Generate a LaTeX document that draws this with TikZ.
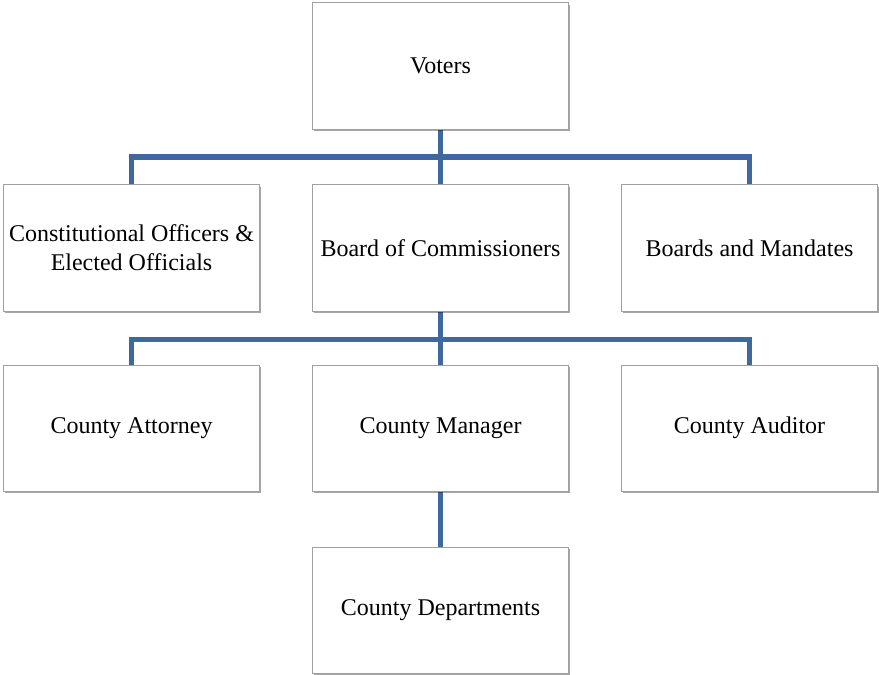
\documentclass[tikz,border=0pt]{standalone}
\usepackage{fontspec}
\setmainfont{Liberation Serif}
\usetikzlibrary{shadows,backgrounds,calc}
\definecolor{connblue}{RGB}{62,104,158}
\definecolor{boxline}{RGB}{160,160,160}
\tikzset{
  orgbox/.style={draw=boxline, line width=1bp, fill=white, minimum width=256bp, minimum height=126bp,
    inner sep=0pt, align=center, font=\fontsize{24bp}{29bp}\selectfont,
    drop shadow={shadow xshift=1.5bp, shadow yshift=-2bp, fill=black, opacity=0.35}},
  conn/.style={draw=connblue, line width=5bp}
}
\begin{document}
\begin{tikzpicture}[x=1bp,y=-1bp]
\useasboundingbox (0,0) rectangle (879,675);
\node[orgbox] (v) at (440.5,66) {Voters};
\node[orgbox] (co) at (131.5,248) {Constitutional Officers \&\\Elected Officials};
\node[orgbox] (bc) at (440.5,248) {Board of Commissioners};
\node[orgbox] (bm) at (749.5,248) {Boards and Mandates};
\node[orgbox] (ca) at (131.5,428) {County Attorney};
\node[orgbox] (cm) at (440.5,428) {County Manager};
\node[orgbox] (au) at (749.5,428) {County Auditor};
\node[orgbox] (cd) at (440.5,610) {County Departments};
\coordinate (bus1) at (440.5,157);
\coordinate (bus2) at (440.5,339);
\begin{pgfonlayer}{background}
\draw[conn] (v.south) -- (bc.north);
\draw[conn] (co.north) |- (bus1) -| (bm.north);
\draw[conn] (bc.south) -- (cm.north);
\draw[conn] (ca.north) |- (bus2) -| (au.north);
\draw[conn] (cm.south) -- (cd.north);
\end{pgfonlayer}
\end{tikzpicture}
\end{document}
